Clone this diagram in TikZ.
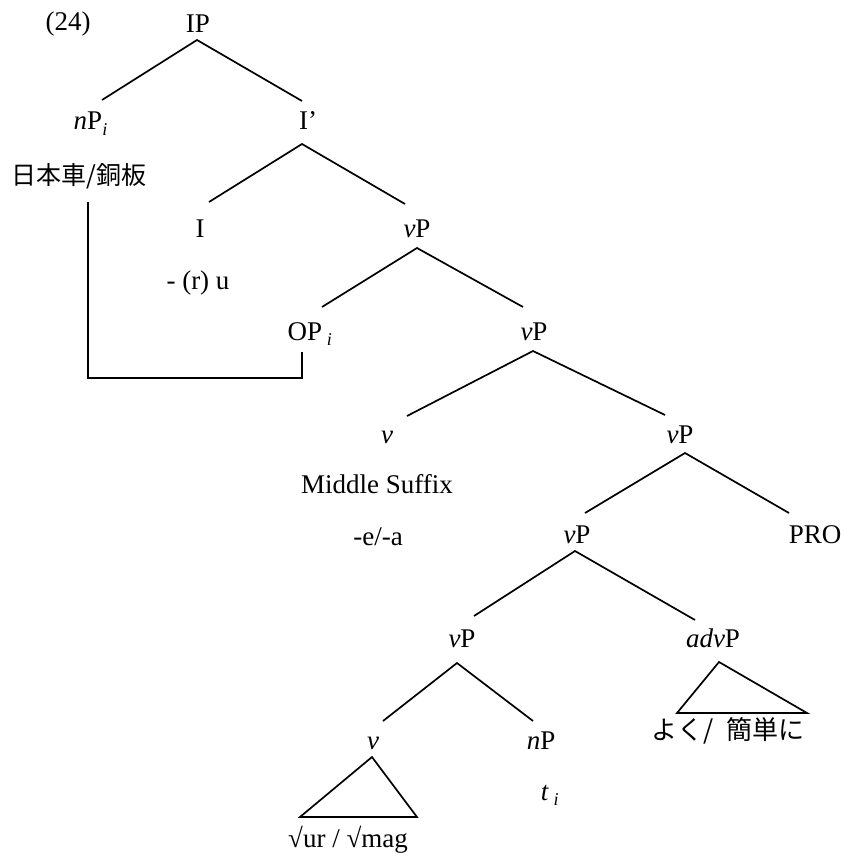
\documentclass[tikz,border=0pt]{standalone}
\usepackage{fontspec}
\setmainfont{Liberation Serif}
\newfontfamily\jpfont{Noto Sans CJK JP}
\newcommand{\subi}{\raisebox{-0.22em}{\fontsize{18}{18}\selectfont\textit{i}}}
\begin{document}
\begin{tikzpicture}[x=1pt,y=-1pt,
  lab/.style={font=\fontsize{27}{31}\selectfont, inner sep=0pt, anchor=base},
  jlab/.style={font=\jpfont\fontsize{25}{30}\selectfont, inner sep=0pt, anchor=base},
  branch/.style={line width=1.7pt},
  tri/.style={line width=1.7pt, line join=miter},
  link/.style={line width=2.6pt}]
\fill[white] (0,0) rectangle (848,861);
\useasboundingbox (0,0) rectangle (848,861);

% labels
\node[lab] (num) at (68,31) {(24)};
\node[lab] (IP) at (198,33) {IP};
\node[lab] (nP) at (88,130) {\textit{n}P\rlap{\subi}};
\node[jlab] (nPtext) at (79,184) {日本車/銅板};
\node[lab] (Ibar) at (308,130) {I’};
\node[lab] (I) at (200,237) {I};
\node[lab] (Itext) at (198,289) {- (r) u};
\node[lab] (vP2) at (417,237) {\textit{v}P};
\node[lab] (OP) at (305,340) {OP\rlap{\,\subi}};
\node[lab] (vP3) at (534,340) {\textit{v}P};
\node[lab] (v4) at (387,443) {\textit{v}};
\node[lab] (mid) at (377,493) {Middle Suffix};
\node[lab] (suf) at (378,545) {-e/-a};
\node[lab] (vP4) at (680,443) {\textit{v}P};
\node[lab] (vP5) at (577,543) {\textit{v}P};
\node[lab] (PRO) at (815,543) {PRO};
\node[lab] (vP6) at (462,647) {\textit{v}P};
\node[lab] (advP) at (713,647) {\textit{adv}P};
\node[jlab,font=\jpfont\fontsize{26}{30}\selectfont] (adv) at (728,739) {よく/\hspace{0.5em}簡単に};
\node[lab] (v7) at (373,749) {\textit{v}};
\node[lab] (nP7) at (541,749) {\textit{n}P};
\node[lab] (trace) at (545,800) {\textit{t}\rlap{\,\subi}};
\node[lab] (root) at (348,847) {√ur / √mag};

% branch points
\coordinate (a0) at (197,40);
\coordinate (e0l) at (102,100);
\coordinate (e0r) at (302,101);
\coordinate (a1) at (302,144);
\coordinate (e1l) at (209,202);
\coordinate (e1r) at (405,204);
\coordinate (a2) at (417,248);
\coordinate (e2l) at (322,307);
\coordinate (e2r) at (523,307);
\coordinate (a3) at (533,351);
\coordinate (e3l) at (407,416);
\coordinate (e3r) at (665,415);
\coordinate (a4) at (685,453);
\coordinate (e4l) at (585,513);
\coordinate (e4r) at (789,513);
\coordinate (a5) at (575,551);
\coordinate (e5l) at (474,616);
\coordinate (e5r) at (695,620);
\coordinate (a6) at (457,663);
\coordinate (e6l) at (383,721);
\coordinate (e6r) at (533,721);

\draw[branch] (e0l) -- (a0) -- (e0r);
\draw[branch] (e1l) -- (a1) -- (e1r);
\draw[branch] (e2l) -- (a2) -- (e2r);
\draw[branch] (e3l) -- (a3) -- (e3r);
\draw[branch] (e4l) -- (a4) -- (e4r);
\draw[branch] (e5l) -- (a5) -- (e5r);
\draw[branch] (e6l) -- (a6) -- (e6r);

% triangles
\coordinate (t1a) at (372,757);
\coordinate (t1l) at (300,817);
\coordinate (t1r) at (417,817);
\draw[tri] (t1a) -- (t1l) -- (t1r) -- cycle;
\coordinate (t2a) at (719,662);
\coordinate (t2l) at (677,713);
\coordinate (t2r) at (807,713);
\draw[tri] (t2a) -- (t2l) -- (t2r) -- cycle;

% coindexation link
\coordinate (k1) at (88,202);
\coordinate (k2) at (88,378);
\coordinate (k3) at (302,378);
\coordinate (k4) at (302,352);
\draw[link] (k1) -- (k2) -- (k3) -- (k4);
\end{tikzpicture}
\end{document}
